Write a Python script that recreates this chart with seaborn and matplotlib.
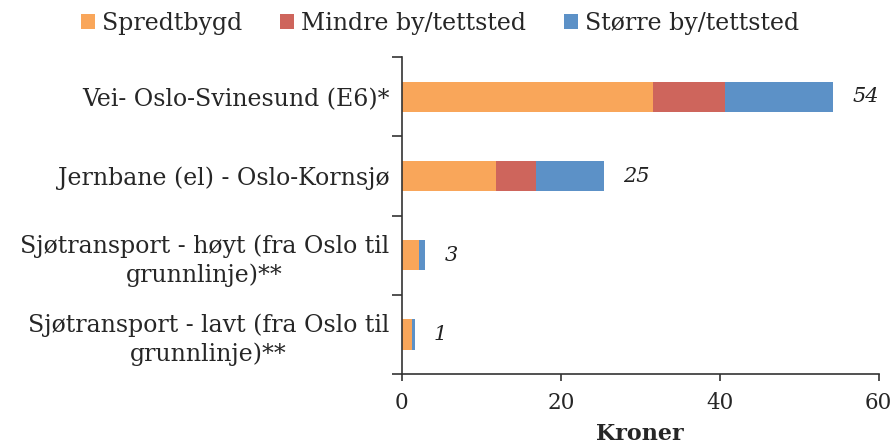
import matplotlib
matplotlib.use('Agg')
import matplotlib.pyplot as plt
import seaborn as sns
import pandas as pd
import numpy as np

categories = ['Vei- Oslo-Svinesund (E6)*',
              'Jernbane (el) - Oslo-Kornsjø',
              'Sjøtransport - høyt (fra Oslo til\ngrunnlinje)**',
              'Sjøtransport - lavt (fra Oslo til\ngrunnlinje)**']
spredtbygd = [31.6, 11.8, 2.1, 1.3]
mindre_by = [9.0, 5.1, 0.0, 0.0]
storre_by = [13.7, 8.5, 0.8, 0.3]
total_labels = ['54', '25', '3', '1']

series_names = ['Spredtbygd', 'Mindre by/tettsted', 'Større by/tettsted']
colors = ['#F9A65A', '#CE655C', '#5C91C7']

sns.set_style('white')
plt.rcParams['font.family'] = ['DejaVu Serif']

df = pd.DataFrame({'cat': categories, 's1': spredtbygd, 's2': mindre_by, 's3': storre_by})
df['c1'] = df['s1']
df['c2'] = df['s1'] + df['s2']
df['c3'] = df['c2'] + df['s3']

fig, ax = plt.subplots(figsize=(8.93, 4.47), dpi=100)
fig.subplots_adjust(left=0.450, right=0.984, top=0.872, bottom=0.163)

# stacked: draw cumulative totals back to front
for col, name, c in zip(['c3', 'c2', 'c1'], series_names[::-1], colors[::-1]):
    sns.barplot(data=df, x=col, y='cat', color=c, width=0.38, orient='h',
                ax=ax, label=name, linewidth=0, saturation=1)

for i, t in enumerate(total_labels):
    ax.annotate(t, (df['c3'][i], i), xytext=(14, 0), textcoords='offset points',
                va='center', ha='left', style='italic', fontsize=15, color='#222222')

ax.set_xlim(0, 60)
ax.set_xticks([0, 20, 40, 60])
ax.set_ylim(3.5, -0.5)
ax.set_yticks(range(4))
ax.set_yticklabels(categories, fontsize=17, multialignment='center', linespacing=1.3)
ax.set_yticks(np.arange(-0.5, 4, 1), minor=True)
ax.tick_params(axis='y', which='major', left=True, length=0, pad=9)
ax.tick_params(axis='y', which='minor', left=True, length=7, direction='out',
               color='#333333', width=1.2)
ax.tick_params(axis='x', bottom=True, length=5, direction='out', color='#333333',
               width=1.2, labelsize=15.5, pad=8)
ax.set_xlabel('Kroner', fontsize=16, fontweight='bold', labelpad=6)
ax.set_ylabel('')

sns.despine(ax=ax)
for s in ['left', 'bottom']:
    ax.spines[s].set_color('#333333')
    ax.spines[s].set_linewidth(1.2)

handles, labels = ax.get_legend_handles_labels()
order = [labels.index(n) for n in series_names]
ax.legend([handles[k] for k in order], series_names, ncol=3, loc='upper center',
          bbox_to_anchor=(0.493, 1.02), bbox_transform=fig.transFigure,
          frameon=False, fontsize=17, handlelength=0.6, handleheight=0.6,
          handletextpad=0.3, columnspacing=1.6)

plt.savefig('out.png', dpi=100)
